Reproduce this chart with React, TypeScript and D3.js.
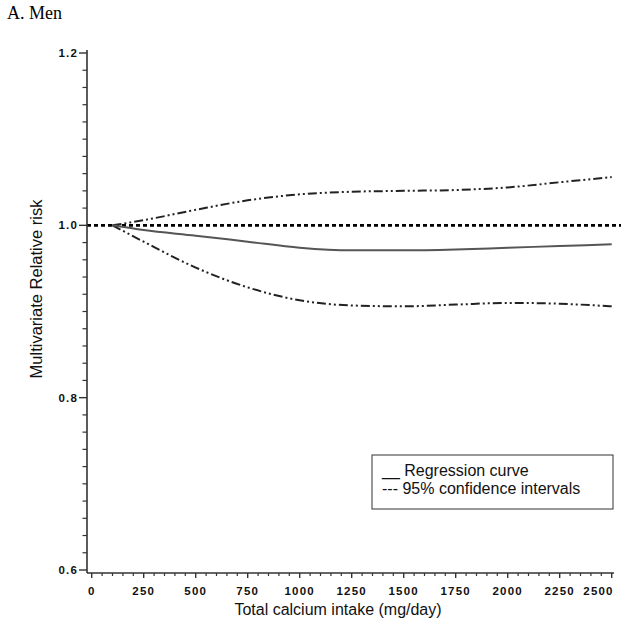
import React from "react";
import * as d3 from "d3";

const intake = [100, 250, 500, 750, 1000, 1250, 1500, 1750, 2000, 2250, 2500];
const regression = [1.0, 0.9945, 0.988, 0.981, 0.974, 0.971, 0.971, 0.972, 0.974, 0.976, 0.978];
const upperCI = [1.0, 1.006, 1.018, 1.029, 1.036, 1.039, 1.04, 1.041, 1.044, 1.05, 1.056];
const lowerCI = [1.0, 0.981, 0.951, 0.928, 0.913, 0.907, 0.906, 0.908, 0.91, 0.909, 0.906];
const xTicks = [0, 250, 500, 750, 1000, 1250, 1500, 1750, 2000, 2250, 2500];
const yTicks = [0.6, 0.8, 1.0, 1.2];

const W = 624;
const H = 627;

export default function App() {
  const x = d3.scaleLinear().domain([0, 2500]).range([91.7, 611.7]);
  const y = d3.scaleLinear().domain([0.6, 1.2]).range([570, 53]);

  const mk = (vals: number[]) =>
    d3
      .line<number>()
      .x((_, i) => x(intake[i]))
      .y((v) => y(v))
      .curve(d3.curveMonotoneX)(vals) || "";

  const xMinor = d3.range(0, 2501, 50).filter((v) => v % 250 !== 0);
  const yMinor = d3
    .range(0, 31)
    .map((i) => 0.6 + i * 0.02)
    .filter((v) => Math.abs(Math.round(v * 5) - v * 5) > 1e-6);

  const axisColor = "#333";
  const axisY = 573;
  const axisX = 87;
  const tickFont = {
    fontFamily: "Arial, 'Liberation Sans', sans-serif",
    fontSize: 11.5,
    fontWeight: 700,
    letterSpacing: 1.2,
  } as const;
  const sans = "Arial, 'Liberation Sans', sans-serif";

  return (
    <svg width={W} height={H} style={{ position: "absolute", left: 0, top: 0, background: "#fff" }}>
      <text x={7} y={18.5} fontFamily="'Liberation Serif', 'Times New Roman', serif" fontSize={18} fill="#000">
        A. Men
      </text>

      {/* reference line at 1.0 */}
      <line x1={axisX} x2={621} y1={y(1)} y2={y(1)} stroke="#000" strokeWidth={2.6} strokeDasharray="4,3" />

      {/* CI lines */}
      <path d={mk(upperCI)} fill="none" stroke="#222" strokeWidth={2} strokeDasharray="9,3,2,3,2,3" />
      <path d={mk(lowerCI)} fill="none" stroke="#222" strokeWidth={2} strokeDasharray="9,3,2,3,2,3" />
      {/* regression */}
      <path d={mk(regression)} fill="none" stroke="#555" strokeWidth={2} />

      {/* y axis */}
      <line x1={axisX} x2={axisX} y1={50} y2={axisY} stroke={axisColor} strokeWidth={1.6} />
      {yMinor.map((t, i) => (
        <line key={"ym" + i} x1={axisX - 4.5} x2={axisX} y1={y(t)} y2={y(t)} stroke={axisColor} strokeWidth={1.2} />
      ))}
      {yTicks.map((t) => (
        <g key={"yt" + t}>
          <line x1={axisX - 8} x2={axisX} y1={y(t)} y2={y(t)} stroke={axisColor} strokeWidth={1.4} />
          <text x={78} y={y(t) + 4} textAnchor="end" {...tickFont} fill="#111">
            {t.toFixed(1)}
          </text>
        </g>
      ))}

      {/* x axis */}
      <line x1={axisX} x2={614} y1={axisY} y2={axisY} stroke={axisColor} strokeWidth={1.6} />
      {xTicks.map((t) => (
        <g key={"xt" + t}>
          <line x1={x(t)} x2={x(t)} y1={axisY} y2={axisY + 5} stroke={axisColor} strokeWidth={1.4} />
          <text
            x={t === 2500 ? x(t) + 2 : x(t)}
            y={595}
            textAnchor={t === 2500 ? "end" : "middle"}
            {...tickFont}
            fill="#111"
          >
            {t}
          </text>
        </g>
      ))}
      {xMinor.map((t) => (
        <line key={"xm" + t} x1={x(t)} x2={x(t)} y1={axisY} y2={axisY + 3} stroke={axisColor} strokeWidth={1.2} />
      ))}

      {/* axis titles */}
      <text x={338} y={615} textAnchor="middle" fontFamily={sans} fontSize={16} fill="#111">
        Total calcium intake (mg/day)
      </text>
      <text
        transform={`translate(42, 289) rotate(-90)`}
        textAnchor="middle"
        fontFamily={sans}
        fontSize={16.5}
        fill="#111"
      >
        Multivariate Relative risk
      </text>

      {/* legend */}
      <rect x={372} y={455} width={241} height={54} fill="#fff" stroke="#333" strokeWidth={1} />
      <text x={382} y={476} fontFamily={sans} fontSize={16} fill="#111">
        __ Regression curve
      </text>
      <text x={382} y={494} fontFamily={sans} fontSize={16} fill="#111">
        --- 95% confidence intervals
      </text>
    </svg>
  );
}
